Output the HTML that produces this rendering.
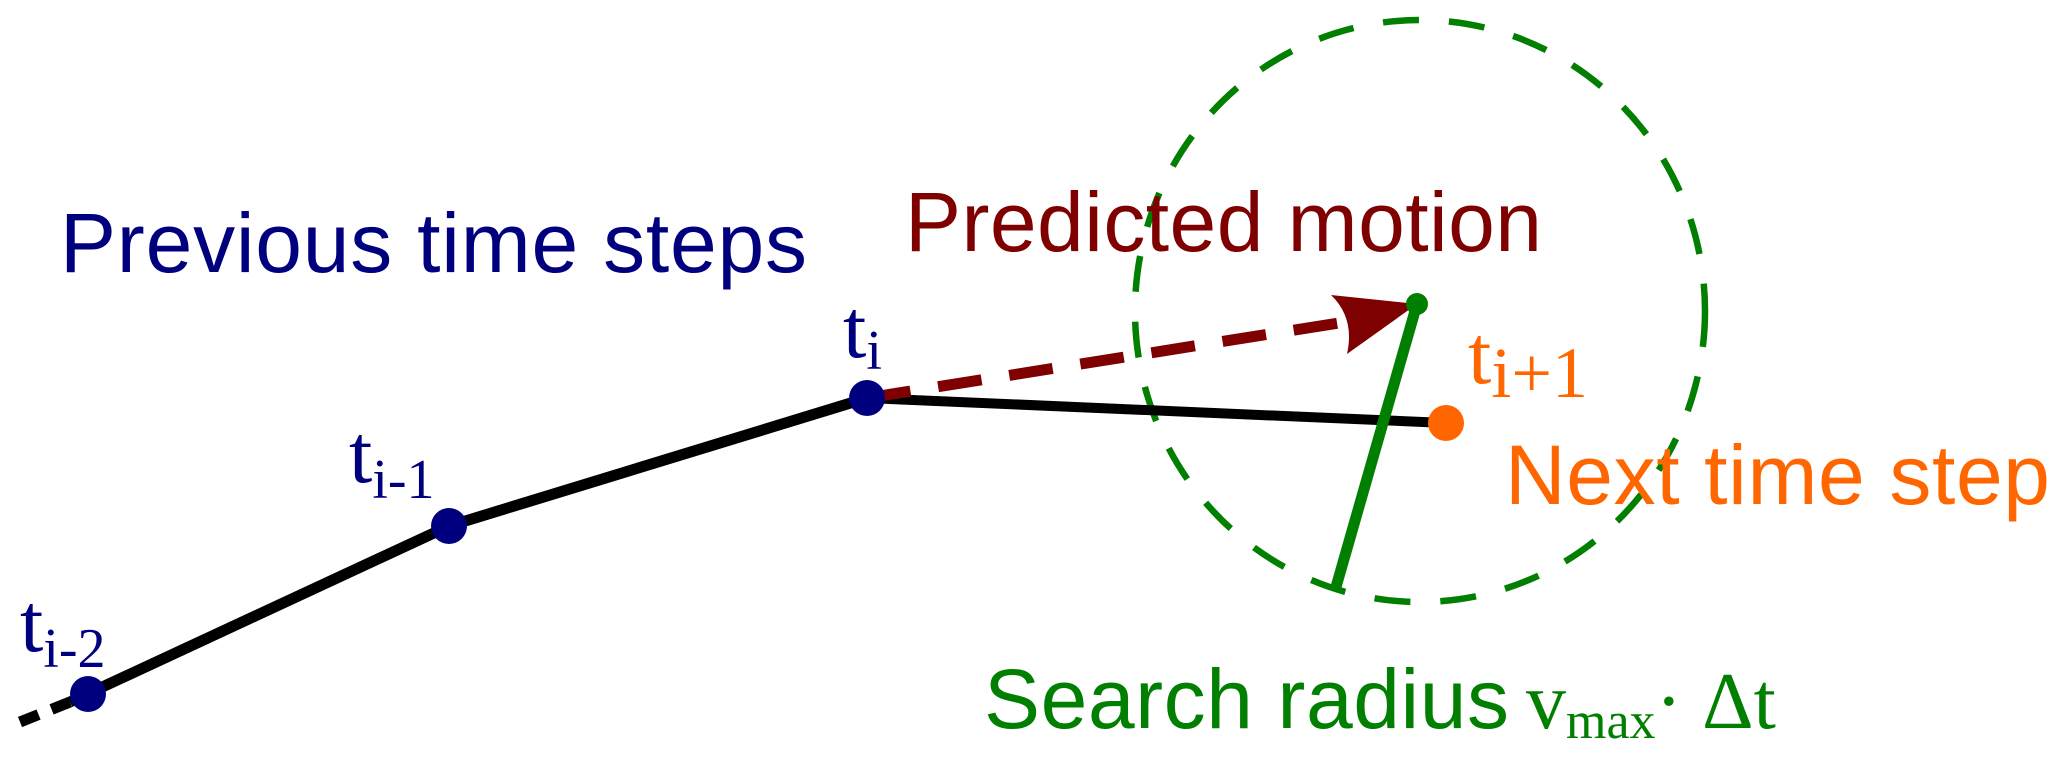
<!DOCTYPE html>
<html><head><meta charset="utf-8"><style>
body{margin:0;background:#fff}
svg text{font-family:"Liberation Sans",sans-serif}
.s{font-family:"Liberation Serif",serif}
</style></head><body>
<svg width="2067" height="756" viewBox="0 0 2067 756" xmlns="http://www.w3.org/2000/svg">
<ellipse cx="1420" cy="311" rx="285" ry="291" fill="none" stroke="#007f00" stroke-width="6.5" stroke-dasharray="36,30"/>
<line x1="20" y1="722" x2="70" y2="702" stroke="#000" stroke-width="11" stroke-dasharray="20,14"/>
<polyline points="70,702 449,526 867,398" fill="none" stroke="#000" stroke-width="11"/>
<line x1="867" y1="398" x2="1446" y2="423" stroke="#000" stroke-width="10"/>
<line x1="867" y1="398" x2="1345" y2="322" stroke="#7f0000" stroke-width="11" stroke-dasharray="44,28"/>
<path d="M1417,304 L1331,295 Q1355,318 1347,354 Z" fill="#7f0000"/>
<line x1="1417" y1="304" x2="1336" y2="587" stroke="#007f00" stroke-width="11"/>
<circle cx="1417" cy="304" r="11" fill="#007f00"/>
<circle cx="88" cy="694" r="18" fill="#00007f"/>
<circle cx="449" cy="526" r="18" fill="#00007f"/>
<circle cx="867" cy="398" r="18" fill="#00007f"/>
<circle cx="1446" cy="423" r="18" fill="#ff6600"/>
<text x="60" y="272" font-size="84" fill="#00007f" textLength="747">Previous time steps</text>
<text x="905" y="251" font-size="84" fill="#7f0000" textLength="637">Predicted motion</text>
<text x="1505" y="504" font-size="84" fill="#ff6600" textLength="545">Next time step</text>
<text x="984" y="728" font-size="84" fill="#007f00" textLength="525">Search radius</text>
<text class="s" x="1526" y="728" font-size="80" fill="#007f00">v<tspan font-size="52" dy="10">max</tspan><tspan dy="-10">· Δt</tspan></text>
<text class="s" x="843" y="357" font-size="84" fill="#00007f">t<tspan font-size="56" dy="12">i</tspan></text>
<text class="s" x="349" y="482" font-size="84" fill="#00007f">t<tspan font-size="56" dy="16">i-1</tspan></text>
<text class="s" x="20" y="651" font-size="84" fill="#00007f">t<tspan font-size="56" dy="16">i-2</tspan></text>
<text class="s" x="1468" y="383" font-size="84" fill="#ff6600">t<tspan font-size="72" dy="14">i+1</tspan></text>
</svg>
</body></html>
